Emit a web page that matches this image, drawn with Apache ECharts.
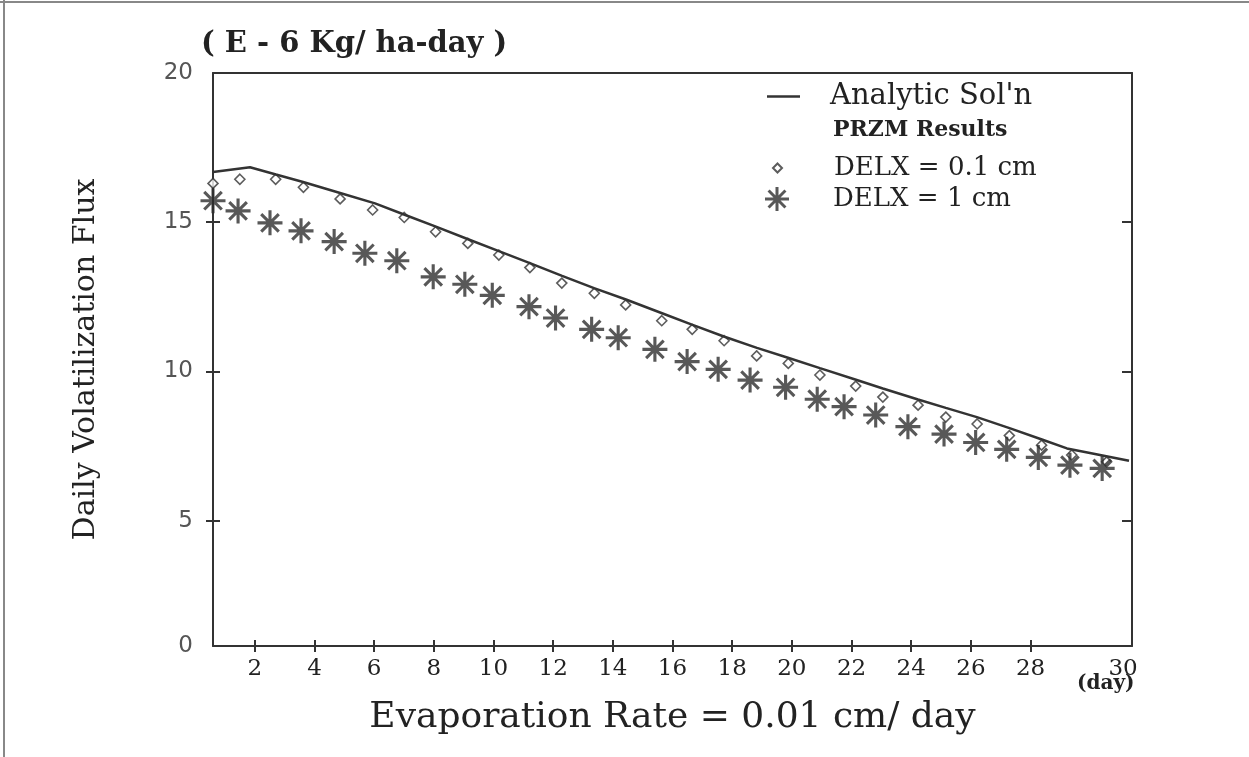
<!DOCTYPE html>
<html>
<head>
<meta charset="utf-8">
<title>Daily Volatilization Flux</title>
<script src="https://cdn.jsdelivr.net/npm/echarts@6/dist/echarts.min.js"></script>
<style>
  html, body { margin: 0; padding: 0; background: #fff; }
  #chart { width: 1249px; height: 757px; }
</style>
</head>
<body>
<div id="chart"></div>
<script>
// values (x in days, y in flux units)
const analyticDays = [0.6, 1.84, 2.71, 3.62, 4.86, 6.03, 7.0, 8.07, 9.15, 10.18, 11.22, 12.3, 13.37, 14.44, 15.65,
  16.65, 17.72, 18.83, 19.87, 20.94, 22.15, 23.05, 24.23, 25.16, 26.2, 27.27, 28.38, 29.22, 29.99, 31.3];
const analyticFlux = [16.68, 16.84, 16.6, 16.35, 15.98, 15.63, 15.26, 14.85, 14.43, 14.03, 13.63, 13.2, 12.79, 12.41, 11.95,
  11.57, 11.17, 10.79, 10.46, 10.11, 9.72, 9.43, 9.06, 8.78, 8.47, 8.11, 7.72, 7.42, 7.27, 7.01];

const fineDays = [0.6, 1.5, 2.7, 3.63, 4.86, 5.95, 7.01, 8.06, 9.14, 10.18, 11.22, 12.29, 13.38, 14.43, 15.64,
  16.66, 17.73, 18.82, 19.88, 20.94, 22.14, 23.05, 24.23, 25.16, 26.21, 27.29, 28.37, 29.38, 30.55];
const fineFlux = [16.3, 16.44, 16.44, 16.17, 15.78, 15.41, 15.16, 14.68, 14.29, 13.9, 13.48, 12.96, 12.62, 12.23, 11.7,
  11.41, 11.03, 10.52, 10.27, 9.88, 9.51, 9.14, 8.87, 8.47, 8.24, 7.85, 7.53, 7.2, 6.97];

const coarseDays = [0.6, 1.44, 2.51, 3.55, 4.66, 5.69, 6.76, 7.98, 9.04, 9.96, 11.19, 12.08, 13.29, 14.18, 15.41,
  16.49, 17.53, 18.6, 19.79, 20.85, 21.75, 22.81, 23.89, 25.1, 26.16, 27.2, 28.26, 29.32, 30.4];
const coarseFlux = [15.72, 15.38, 14.98, 14.71, 14.35, 13.96, 13.71, 13.17, 12.92, 12.55, 12.17, 11.79, 11.41, 11.13, 10.74,
  10.33, 10.07, 9.71, 9.47, 9.07, 8.82, 8.54, 8.15, 7.9, 7.62, 7.39, 7.12, 6.86, 6.75];

const xTicks = [2, 4, 6, 8, 10, 12, 14, 16, 18, 20, 22, 24, 26, 28];
const yTicks = [5, 10, 15];
const yLabels = [0.8, 5, 10, 15, 20];

const zip = (xs, ys) => xs.map((x, i) => [x, ys[i]]);

const ink = "#333";
const textInk = "#222";
const serif = "DejaVu Serif";
const starPath = "path://M-1.25,-10L1.25,-10L1.25,10L-1.25,10Z M-10,-1.25L10,-1.25L10,1.25L-10,1.25Z " +
  "M-7.9,-6.15L-6.15,-7.9L7.9,6.15L6.15,7.9Z M6.15,-7.9L7.9,-6.15L-6.15,7.9L-7.9,6.15Z";
const dashIcon = "path://M0,0L40,0L40,3L0,3Z";

const chart = echarts.init(document.getElementById("chart"));

const xMin = 0.6, xMax = 31.4, yMin = 0.8, yMax = 20;

const option = {
  animation: false,
  backgroundColor: "#fff",
  title: {
    text: "( E - 6 Kg/ ha-day )",
    left: 201,
    top: 30,
    padding: 0,
    textStyle: { fontFamily: serif, fontWeight: "bold", fontSize: 29, color: textInk }
  },
  legend: [
    {
      data: [{ name: "Analytic Sol'n", icon: dashIcon }],
      left: 767, top: 82, padding: 0,
      itemWidth: 33, itemHeight: 20,
      selectedMode: false,
      textStyle: { fontFamily: serif, fontSize: 29, color: textInk, padding: [0, 0, 0, 25] }
    },
    {
      data: ["DELX = 0.1 cm"],
      left: 772, top: 155, padding: 0,
      itemWidth: 9, itemHeight: 9,
      selectedMode: false,
      textStyle: { fontFamily: serif, fontSize: 26, color: textInk, padding: [0, 0, 0, 47] }
    },
    {
      data: ["DELX = 1 cm"],
      left: 765, top: 186, padding: 0,
      itemWidth: 24, itemHeight: 24,
      selectedMode: false,
      textStyle: { fontFamily: serif, fontSize: 26, color: textInk, padding: [0, 0, 0, 39] }
    }
  ],
  graphic: [
    { type: "line", shape: { x1: 0, y1: 2, x2: 1249, y2: 2 }, style: { stroke: "#888", lineWidth: 2 } },
    { type: "line", shape: { x1: 4, y1: 0, x2: 4, y2: 757 }, style: { stroke: "#888", lineWidth: 2 } },
    {
      type: "text", left: 833, top: 119,
      style: { text: "PRZM Results", fontFamily: serif, fontWeight: "bold", fontSize: 22, fill: textInk }
    },
    {
      type: "text", left: 1077, top: 674,
      style: { text: "(day)", fontFamily: serif, fontWeight: "bold", fontSize: 20, fill: textInk }
    }
  ],
  grid: { left: 213, right: 117, top: 73, bottom: 111, outerBoundsMode: "none" },
  xAxis: [
    {
      type: "value", min: xMin, max: xMax,
      name: "Evaporation Rate = 0.01 cm/ day",
      nameLocation: "middle", nameGap: 54,
      nameTextStyle: { fontFamily: serif, fontSize: 36, color: textInk },
      axisLine: { lineStyle: { color: ink, width: 2 } },
      axisTick: { customValues: xTicks, length: 6, lineStyle: { color: ink, width: 2 } },
      axisLabel: {
        customValues: xTicks.concat([31.1]),
        formatter: v => (v > 30 ? "30" : String(v)),
        margin: 12,
        fontFamily: serif, fontSize: 23, color: textInk
      },
      splitLine: { show: false }
    },
    {
      type: "value", min: xMin, max: xMax, position: "bottom",
      axisLine: { show: false },
      axisTick: { customValues: xTicks, inside: true, length: 6, lineStyle: { color: ink, width: 2 } },
      axisLabel: { show: false },
      splitLine: { show: false }
    },
    {
      type: "value", min: xMin, max: xMax, position: "top",
      axisLine: { lineStyle: { color: ink, width: 2 } },
      axisTick: { show: false },
      axisLabel: { show: false },
      splitLine: { show: false }
    }
  ],
  yAxis: [
    {
      type: "value", min: yMin, max: yMax, position: "left",
      name: "Daily Volatilization Flux",
      nameLocation: "middle", nameRotate: 90, nameGap: 112,
      nameTextStyle: { fontFamily: serif, fontSize: 30, color: textInk },
      axisLine: { lineStyle: { color: ink, width: 2 } },
      axisTick: { customValues: yTicks, length: 7, lineStyle: { color: ink, width: 2 } },
      axisLabel: {
        customValues: yLabels,
        formatter: v => (v < 1 ? "0" : String(v)),
        margin: 20,
        fontFamily: "DejaVu Sans", fontSize: 23, color: "#555"
      },
      splitLine: { show: false }
    },
    {
      type: "value", min: yMin, max: yMax, position: "left",
      axisLine: { show: false },
      axisTick: { customValues: yTicks, inside: true, length: 7, lineStyle: { color: ink, width: 2 } },
      axisLabel: { show: false },
      splitLine: { show: false }
    },
    {
      type: "value", min: yMin, max: yMax, position: "right",
      axisLine: { lineStyle: { color: ink, width: 2 } },
      axisTick: { customValues: yTicks, inside: true, length: 10, lineStyle: { color: ink, width: 2 } },
      axisLabel: { show: false },
      splitLine: { show: false }
    }
  ],
  series: [
    {
      name: "DELX = 0.1 cm",
      type: "scatter",
      data: zip(fineDays, fineFlux),
      symbol: "diamond",
      symbolSize: 10,
      itemStyle: { color: "#fff", borderColor: ink, borderWidth: 1.6 }
    },
    {
      name: "DELX = 1 cm",
      type: "scatter",
      data: zip(coarseDays, coarseFlux),
      symbol: starPath,
      symbolSize: 25,
      itemStyle: { color: "#2e2e2e" }
    },
    {
      name: "Analytic Sol'n",
      type: "line",
      data: zip(analyticDays, analyticFlux),
      symbol: "none",
      lineStyle: { color: ink, width: 2.5 },
      itemStyle: { color: ink }
    }
  ]
};

chart.setOption(option);

window.addEventListener("resize", () => {
  chart.resize();
});
</script>
</body>
</html>
